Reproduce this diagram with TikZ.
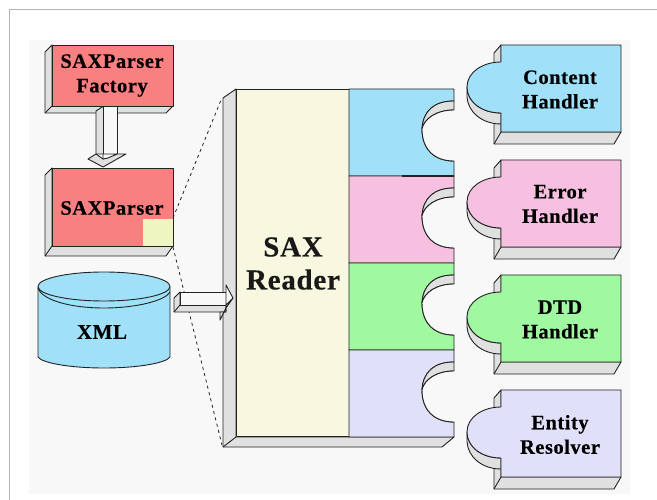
\documentclass[tikz,border=0pt]{standalone}
\usepackage{fontspec}
\setmainfont[BoldFeatures={LetterSpace=2.5,FakeBold=0.35}]{Liberation Serif}
\definecolor{pagebg}{HTML}{F8F8F8}
\definecolor{frameln}{HTML}{B4B4B4}
\definecolor{bevel}{HTML}{E0E0E0}
\definecolor{inkln}{HTML}{222222}
\definecolor{cblue}{HTML}{A0E0F8}
\definecolor{cpink}{HTML}{F8C0E0}
\definecolor{cgreen}{HTML}{A0F8A0}
\definecolor{clav}{HTML}{E0E0F8}
\definecolor{cred}{HTML}{F88080}
\definecolor{ccream}{HTML}{F8F8E0}
\definecolor{cyell}{HTML}{EEF5C0}
\tikzset{
  ln/.style={draw=inkln,line width=0.9pt,line join=round},
  bev/.style={ln,fill=bevel},
  lbl/.style={font=\bfseries\fontsize{20.5}{24.5}\selectfont,align=center,text=black,inner sep=0pt},
  biglbl/.style={font=\bfseries\fontsize{29}{33}\selectfont,align=center,text=black!90,inner sep=0pt},
  leader/.style={draw=inkln,line width=0.8pt,dash pattern=on 3pt off 3.5pt},
}
% handler: name, top y, colour, text, text centre y
\newcommand{\handlerpiece}[5]{%
  \begin{scope}[shift={(0,#2)}]
    \path[bev] (501,0) -- (494,8) -- (494,99) -- (614,99) -- (621,87) -- (501,87) -- cycle;
    \draw[ln] (501,87) -- (494,99);
    \path[bev] (467,42) .. controls (467,57) and (482,68) .. (501,68)
       -- (501,79) .. controls (482,79) and (468,67) .. (467,52) -- cycle;
    \path[ln,fill=#3] (501,0) -- (621,0) -- (621,87) -- (501,87) -- (501,68)
       .. controls (482,68) and (467,57) .. (467,42)
       .. controls (467,27) and (483,17) .. (501,17) -- cycle;
    \node[lbl] (#1) at (560,#5) {#4};
  \end{scope}}
% reader section: colour, top y, height
\newcommand{\readerpiece}[3]{%
  \begin{scope}[shift={(0,#2)}]
    \path[ln,fill=#1] (349,0) -- (454,0) -- (454,12)
       .. controls (434,12) and (423,22) .. (422,40)
       .. controls (422,60) and (434,72) .. (454,72)
       -- (454,#3) -- (349,#3) -- cycle;
    \path[ln,fill=bevel] (454,12) .. controls (434,12) and (423,22) .. (422,40)
       .. controls (424,30) and (436,21) .. (454,21) -- cycle;
    \path[fill=pagebg] (454,21) .. controls (436,21) and (424,30) .. (422,40)
       .. controls (422,60) and (434,72) .. (454,72) -- cycle;
    \draw[ln] (454,21) .. controls (436,21) and (424,30) .. (422,40)
       .. controls (422,60) and (434,72) .. (454,72);
  \end{scope}}
\begin{document}
\begin{tikzpicture}[x=1pt,y=-1pt]
\useasboundingbox (0,0) rectangle (657,500);
\fill[white] (0,0) rectangle (657,500);
\draw[frameln,line width=1.3pt] (9.5,500) -- (9.5,9.5) -- (657,9.5);
\fill[pagebg] (29,40) rectangle (630,494);

% leader lines
\coordinate (zoomA) at (173,218);
\coordinate (zoomB) at (221,100);
\coordinate (zoomC) at (173,247);
\coordinate (zoomD) at (222,445);
\path[leader] (zoomA) -- (zoomB);
\path[leader] (zoomC) -- (zoomD);

% SAXParser Factory box
\path[bev] (52,45) -- (45,52) -- (45,113) -- (166,113) -- (173,106) -- (52,106) -- cycle;
\draw[ln] (52,106) -- (45,113);
\path[ln,fill=cred] (52,45) rectangle (173,106);
\node[lbl] (factory) at (112,75.5) {SAXParser\\Factory};

% SAXParser box
\path[bev] (52,168) -- (45,175) -- (45,256) -- (166,256) -- (173,246) -- (52,246) -- cycle;
\draw[ln] (52,246) -- (45,256);
\path[fill=cred] (52,168) rectangle (173,246);
\path[fill=cyell] (143,219) rectangle (173,246);
\path[ln] (52,168) rectangle (173,246);
\node[lbl] (parser) at (112,208) {SAXParser};

% block arrow, factory to parser
\path[bev] (103,106.5) -- (96,111) -- (96,154) -- (103,154) -- (117,154) -- (117,106.5) -- cycle;
\path[ln,fill=pagebg] (103,106.5) rectangle (117,154);
\path[bev] (96,154) -- (88,159) -- (103,167) -- (126,154) -- (117,154) -- (103,159) -- cycle;
\path[ln,fill=pagebg] (103,154) -- (117,154) -- (108,158) -- (103,159) -- cycle;

% XML cylinder
\path[ln,fill=cblue] (38,287) -- (38,357)
   .. controls (42,363) and (70,368) .. (104,368)
   .. controls (138,368) and (166,363) .. (170,357)
   -- (170,287) -- cycle;
\path[ln,fill=cblue] (38,286.5) .. controls (38,278.5) and (67.5,272) .. (104,272)
   .. controls (140.5,272) and (170,278.5) .. (170,286.5)
   .. controls (170,294.5) and (140.5,301) .. (104,301)
   .. controls (67.5,301) and (38,294.5) .. (38,286.5) -- cycle;
\draw[ln] (38,288) .. controls (42,300) and (70,308) .. (104,308)
   .. controls (138,308) and (166,300) .. (170,292);
\node[lbl,font=\bfseries\fontsize{21}{24}\selectfont] (xml) at (102,332) {XML};

% SAX Reader
\path[bev] (236,89) -- (223,98) -- (223,447) -- (442,447) -- (454,437) -- (236,437) -- cycle;
\draw[ln] (236,437) -- (223,447);
\path[ln,fill=ccream] (236,89) rectangle (349,436.5);
\node[biglbl] (reader) at (293,263.5) {SAX\\Reader};
\readerpiece{cblue}{89}{87}
\readerpiece{cpink}{176}{87}
\readerpiece{cgreen}{263}{87}
\readerpiece{clav}{350}{87}
\draw[inkln,line width=1.5pt] (402,176) -- (454,176);

% block arrow, XML to reader
\path[bev] (174,298) -- (180,292) -- (180,305) -- (226,305) -- (226,312) -- (174,312) -- cycle;
\draw[ln] (180,305) -- (174,312);
\path[ln,fill=pagebg] (180,292) rectangle (226,305);
\path[bev] (226,305) -- (233,298) -- (226,308) -- (220,320) -- (220,312) -- (226,312) -- cycle;
\path[ln,fill=pagebg] (226,285) -- (233,298) -- (226,305) -- (226,292) -- cycle;

% handlers
\handlerpiece{content}{45}{cblue}{Content\\Handler}{44.5}
\handlerpiece{errorh}{160}{cpink}{Error\\Handler}{44}
\handlerpiece{dtd}{275}{cgreen}{DTD\\Handler}{44.5}
\handlerpiece{entity}{390}{clav}{Entity\\Resolver}{44.5}
\end{tikzpicture}
\end{document}
